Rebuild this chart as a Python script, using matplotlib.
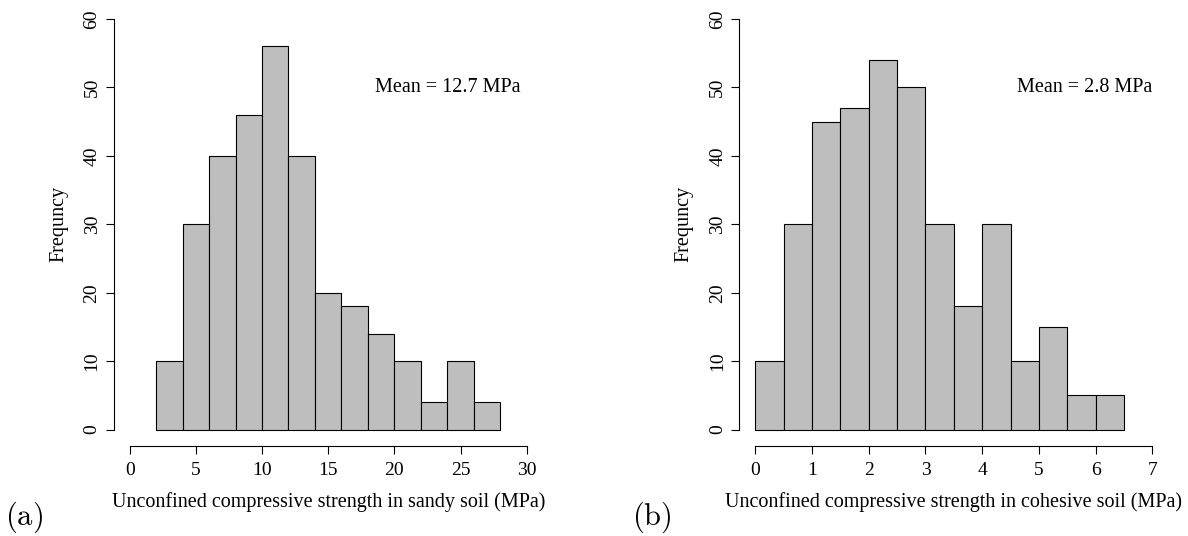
import matplotlib
matplotlib.use("Agg")
import matplotlib.pyplot as plt

plt.rcParams['font.family'] = ['Liberation Serif', 'DejaVu Serif']

# histogram data
sandy_edges = [2, 4, 6, 8, 10, 12, 14, 16, 18, 20, 22, 24, 26, 28]
sandy_counts = [10, 30, 40, 46, 56, 40, 20, 18, 14, 10, 4, 10, 4]
sandy_xticks = [0, 5, 10, 15, 20, 25, 30]
sandy_mean = 12.7

cohesive_edges = [0, 0.5, 1, 1.5, 2, 2.5, 3, 3.5, 4, 4.5, 5, 5.5, 6, 6.5]
cohesive_counts = [10, 30, 45, 47, 54, 50, 30, 18, 30, 10, 15, 5, 5]
cohesive_xticks = [0, 1, 2, 3, 4, 5, 6, 7]
cohesive_mean = 2.8

yticks = [0, 10, 20, 30, 40, 50, 60]

W, H = 1188, 536
fig = plt.figure(figsize=(W / 100, H / 100), dpi=100)


def draw_hist(ax, edges, counts, xticks, mean, mean_x, xlabel):
    widths = [edges[i + 1] - edges[i] for i in range(len(counts))]
    ax.bar(edges[:-1], counts, width=widths, align='edge',
           color='#bebebe', edgecolor='black', linewidth=0.8)

    # R style: 4% padding, detached axes running from first to last tick
    span = xticks[-1] - xticks[0]
    ax.set_xlim(xticks[0] - 0.04 * span, xticks[-1] + 0.04 * span)
    ax.set_ylim(-2.4, 62.4)
    ax.set_xticks(xticks)
    ax.set_yticks(yticks)
    for s in ['top', 'right']:
        ax.spines[s].set_visible(False)
    ax.spines['left'].set_bounds(yticks[0], yticks[-1])
    ax.spines['bottom'].set_bounds(xticks[0], xticks[-1])
    for s in ['left', 'bottom']:
        ax.spines[s].set_linewidth(0.8)

    ax.tick_params(axis='both', direction='out', length=6, width=0.8,
                   labelsize=14)
    ax.tick_params(axis='x', pad=5.5)
    ax.tick_params(axis='y', pad=3.5, labelrotation=90)
    for lab in ax.get_yticklabels():
        lab.set_va('center')

    ax.set_xlabel(xlabel, fontsize=14.5)
    ax.xaxis.label.set_va('baseline')
    ax.xaxis.set_label_coords(0.5, -0.137)
    ax.set_ylabel('Frequncy', fontsize=14.5, va='center')
    ax.yaxis.set_label_coords(-0.129, 0.5)

    ax.text(mean_x, 50, 'Mean = %s MPa' % mean, fontsize=14.5,
            ha='center', va='center')


ax1 = fig.add_axes([113.8 / W, 90 / H, 428.8 / W, 443.4 / H])
draw_hist(ax1, sandy_edges, sandy_counts, sandy_xticks, sandy_mean, 24,
          'Unconfined compressive strength in sandy soil (MPa)')

ax2 = fig.add_axes([739.4 / W, 90 / H, 428.8 / W, 443.4 / H])
draw_hist(ax2, cohesive_edges, cohesive_counts, cohesive_xticks,
          cohesive_mean, 5.8,
          'Unconfined compressive strength in cohesive soil (MPa)')

fig.text(24 / W, 1 - 517 / H, r'$\mathrm{(a)}$', fontsize=22,
         math_fontfamily='cm', ha='center', va='center')
fig.text(652 / W, 1 - 517 / H, r'$\mathrm{(b)}$', fontsize=22,
         math_fontfamily='cm', ha='center', va='center')

fig.savefig('out.png', dpi=100)
